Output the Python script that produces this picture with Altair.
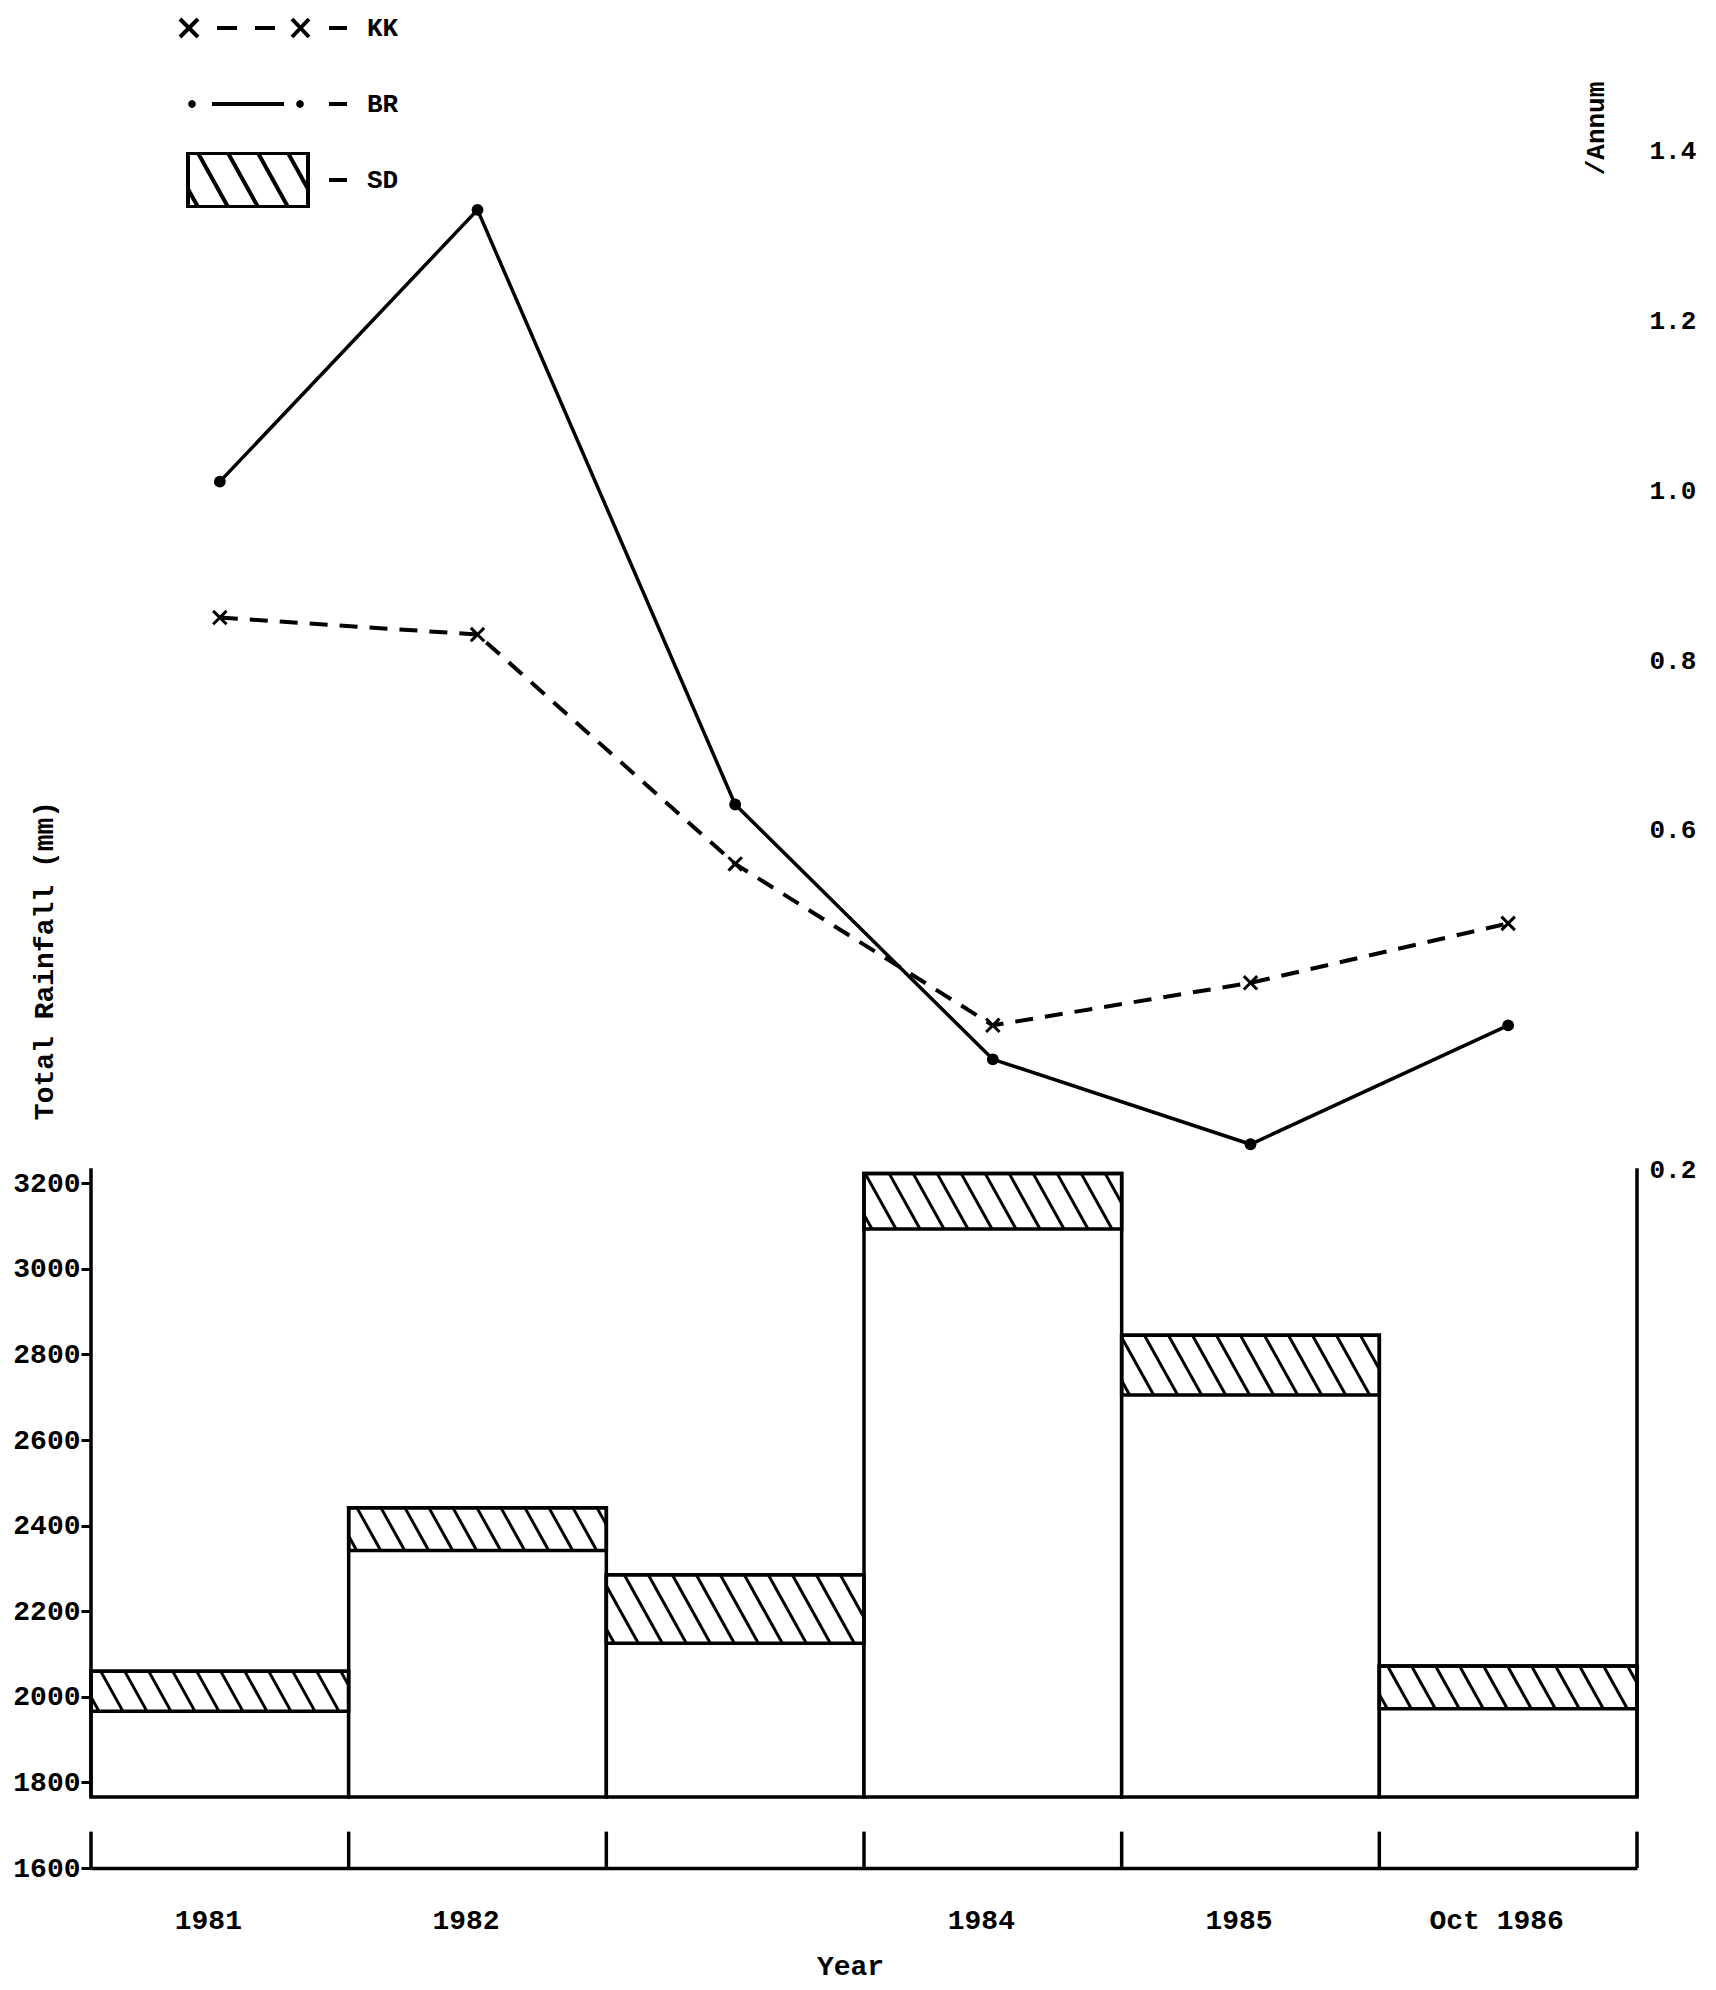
import json
import altair as alt
import pandas as pd

# ---------------- data ----------------
years = ["1981", "1982", "1983", "1984", "1985", "Oct 1986"]
year_ticklabels = ["1981", "1982", "", "1984", "1985", "Oct 1986"]
rain_mean = [2013, 2392, 2205, 3158, 2775, 2022]   # mm
rain_sd = [47, 50, 80, 65, 70, 50]                  # mm
kk_values = [0.85, 0.83, 0.56, 0.37, 0.42, 0.49]
br_values = [1.01, 1.33, 0.63, 0.33, 0.23, 0.37]
left_ticks = [1600, 1800, 2000, 2200, 2400, 2600, 2800, 3000, 3200]
right_ticks = [0.2, 0.6, 0.8, 1.0, 1.2, 1.4]
legend_names = ["KK", "BR", "SD"]

# ---------------- layout / style constants ----------------
W, H = 1546, 1860
FLOOR_MM = 1600
LEFT_MAX = 5946
RIGHT_DOMAIN = [-0.622, 1.5676]
BAR_BASE = 1766
EDGE_TICK_TOP = 1685
AXIS_TOP = 3235
FONT = "Liberation Mono"
SW = 3.5

n = len(years)
PX_X = W / n
PX_MM = H / (LEFT_MAX - FLOOR_MM)

bars = pd.DataFrame({
    "year": years,
    "x0": list(range(n)),
    "x1": [i + 1 for i in range(n)],
    "base": [BAR_BASE] * n,
    "lo": [m - s for m, s in zip(rain_mean, rain_sd)],
    "hi": [m + s for m, s in zip(rain_mean, rain_sd)],
})

# hatch lines for the SD bands (drawn in data units through the scales)
HATCH_GAP = 24
HATCH_SLOPE = 1.8
hatch_rows = []
for i, (lo, hi) in enumerate(zip(bars["lo"], bars["hi"])):
    left, right = i * PX_X, (i + 1) * PX_X
    h = (hi - lo) * PX_MM
    w = h / HATCH_SLOPE
    xt = left - w + 8
    while xt < right:
        xa, xb, ya, yb = xt, xt + w, 0.0, h
        if xa < left:
            ya = (left - xt) * HATCH_SLOPE
            xa = left
        if xb > right:
            yb = (right - xt) * HATCH_SLOPE
            xb = right
        if xb - xa > 1:
            hatch_rows.append({"x": xa / PX_X, "x2": xb / PX_X,
                               "y": hi - ya / PX_MM, "y2": hi - yb / PX_MM})
        xt += HATCH_GAP
hatch = pd.DataFrame(hatch_rows)

edges = pd.DataFrame({"x": list(range(n + 1)),
                      "y": [FLOOR_MM] * (n + 1),
                      "y2": [EDGE_TICK_TOP] * (n + 1)})
axis_lines = pd.DataFrame({"x": [0, n], "y": [BAR_BASE, BAR_BASE], "y2": [AXIS_TOP, AXIS_TOP]})

kk = pd.DataFrame({"x": [i + 0.5 for i in range(n)], "v": kk_values})
br = pd.DataFrame({"x": [i + 0.5 for i in range(n)], "v": br_values})

x_scale = alt.Scale(domain=[0, n], nice=False, zero=False)
yl_scale = alt.Scale(domain=[FLOOR_MM, LEFT_MAX], nice=False, zero=False)
yr_scale = alt.Scale(domain=RIGHT_DOMAIN, nice=False, zero=False)

label_expr = json.dumps(year_ticklabels) + "[floor(datum.value)]"
x_axis = alt.Axis(values=[i + 0.5 for i in range(n)], labelExpr=label_expr, ticks=False,
                  domain=True, domainColor="black", domainWidth=SW, grid=False,
                  labelFont=FONT, labelFontSize=28, labelFontWeight="bold", labelColor="black",
                  labelPadding=52, labelBaseline="middle", labelOffset=-12,
                  labelFlush=False, labelOverlap=False,
                  title="Year", titleFont=FONT, titleFontSize=28, titleFontWeight="bold",
                  titleColor="black", titleX=759, titleY=98, titleBaseline="middle")
yl_axis = alt.Axis(values=left_ticks, format="d", domain=False, ticks=True, tickSize=10,
                   tickWidth=3, tickColor="black", grid=False, labelPadding=1,
                   labelFont=FONT, labelFontSize=28, labelFontWeight="bold", labelColor="black",
                   labelFlush=False,
                   title="Total Rainfall (mm)", titleFont=FONT, titleFontSize=28,
                   titleFontWeight="bold", titleColor="black", titleAngle=270,
                   titleX=-47, titleY=952, titleAlign="center", titleBaseline="middle")
yr_axis = alt.Axis(orient="right", values=right_ticks, format=".1f", domain=False, ticks=False,
                   grid=False, labelPadding=12, labelFont=FONT, labelFontSize=26,
                   labelFontWeight="bold", labelColor="black", labelFlush=False,
                   title="/Annum", titleFont=FONT, titleFontSize=26, titleFontWeight="bold",
                   titleColor="black", titleAngle=270, titleX=-42, titleY=120,
                   titleAlign="center", titleBaseline="middle")

XQ = dict(scale=x_scale, axis=x_axis)
YL = dict(scale=yl_scale, axis=yl_axis)
YR = dict(scale=yr_scale, axis=yr_axis)

bar_rect = alt.Chart(bars).mark_rect(fill="white", stroke="black", strokeWidth=SW).encode(
    x=alt.X("x0:Q", **XQ), x2="x1:Q",
    y=alt.Y("base:Q", **YL), y2="hi:Q",
)
band_rect = alt.Chart(bars).mark_rect(fillOpacity=0, stroke="black", strokeWidth=SW).encode(
    x=alt.X("x0:Q", **XQ), x2="x1:Q",
    y=alt.Y("lo:Q", **YL), y2="hi:Q",
)
hatch_rules = alt.Chart(hatch).mark_rule(color="black", strokeWidth=3).encode(
    x=alt.X("x:Q", **XQ), x2="x2:Q",
    y=alt.Y("y:Q", **YL), y2="y2:Q",
)
edge_ticks = alt.Chart(edges).mark_rule(color="black", strokeWidth=SW).encode(
    x=alt.X("x:Q", **XQ),
    y=alt.Y("y:Q", **YL), y2="y2:Q",
)
frame_lines = alt.Chart(axis_lines).mark_rule(color="black", strokeWidth=SW).encode(
    x=alt.X("x:Q", **XQ),
    y=alt.Y("y:Q", **YL), y2="y2:Q",
)
left_group = alt.layer(bar_rect, band_rect, hatch_rules, edge_ticks, frame_lines)

X_PATH = "M-1,-1L1,1M-1,1L1,-1"
kk_line = alt.Chart(kk).mark_line(color="black", strokeWidth=4, strokeDash=[18, 12]).encode(
    x=alt.X("x:Q", **XQ), y=alt.Y("v:Q", **YR),
)
kk_pts = alt.Chart(kk).mark_point(shape=X_PATH, filled=False, color="black",
                                  strokeWidth=3, size=180, opacity=1).encode(
    x=alt.X("x:Q", **XQ), y=alt.Y("v:Q", **YR),
)
br_line = alt.Chart(br).mark_line(color="black", strokeWidth=SW).encode(
    x=alt.X("x:Q", **XQ), y=alt.Y("v:Q", **YR),
)
br_pts = alt.Chart(br).mark_point(shape="circle", filled=True, color="black",
                                  size=140, opacity=1).encode(
    x=alt.X("x:Q", **XQ), y=alt.Y("v:Q", **YR),
)
right_group = alt.layer(kk_line, kk_pts, br_line, br_pts)

# ---------------- legend symbols (custom SVG paths) ----------------
G = 167.0          # graphic width in px
R = G / 2


def u(px):
    return round((px - R) / R, 4)


def v(py):
    return round(py / R, 4)


def seg(x1, y1, x2, y2):
    return f"M{u(x1)},{v(y1)}L{u(x2)},{v(y2)}"


def dot(cx, r):
    return (f"M{u(cx - r)},0A{v(r)},{v(r)} 0 1,0 {u(cx + r)},0"
            f"A{v(r)},{v(r)} 0 1,0 {u(cx - r)},0Z")


kk_sym = (seg(0, -9, 18, 9) + seg(0, 9, 18, -9) + seg(37, 0, 57, 0) + seg(75, 0, 95, 0)
          + seg(112, -9, 129, 9) + seg(112, 9, 129, -9) + seg(149, 0, 167, 0))
br_sym = (dot(12, 1.8) + dot(12, 0.6) + seg(32, 0, 104, 0) + dot(120, 1.8) + dot(120, 0.6)
          + seg(149, 0, 167, 0))
bx0, bx1, by = 8, 128, 27
sd_sym = (f"M{u(bx0)},{v(-by)}L{u(bx1)},{v(-by)}L{u(bx1)},{v(by)}L{u(bx0)},{v(by)}Z"
          + seg(149, 0, 167, 0))
hh = 2 * by
hw = hh / HATCH_SLOPE
xt = bx0 - hw + 10
while xt < bx1:
    xa, xb, ya, yb = xt, xt + hw, -by, by
    if xa < bx0:
        ya = -by + (bx0 - xt) * HATCH_SLOPE
        xa = bx0
    if xb > bx1:
        yb = -by + (bx1 - xt) * HATCH_SLOPE
        xb = bx1
    if xb - xa > 1:
        sd_sym += seg(xa, ya, xb, yb)
    xt += 30

legend_df = pd.DataFrame({"series": legend_names})
legend_layer = alt.Chart(legend_df).mark_point(opacity=0, color="black", filled=False).encode(
    shape=alt.Shape(
        "series:N",
        scale=alt.Scale(domain=legend_names, range=[kk_sym, br_sym, sd_sym]),
        legend=alt.Legend(title="", orient="none", legendX=87, legendY=-8, padding=0,
                          symbolSize=G * G, symbolStrokeWidth=4, symbolStrokeColor="black",
                          symbolFillColor="transparent", symbolOpacity=1,
                          labelFont=FONT, labelFontSize=26, labelFontWeight="bold",
                          labelColor="black", labelOffset=18, clipHeight=56, rowPadding=20),
    )
)

chart = alt.layer(left_group, right_group, legend_layer).resolve_scale(
    y="independent"
).properties(
    width=W, height=H,
    padding={"left": 83, "top": 0, "right": 70, "bottom": 120},
    autosize=alt.AutoSizeParams(type="none"),
    background="white",
).configure_view(strokeWidth=0)

chart.save("out.html", embed_options={"renderer": "svg", "actions": False})
